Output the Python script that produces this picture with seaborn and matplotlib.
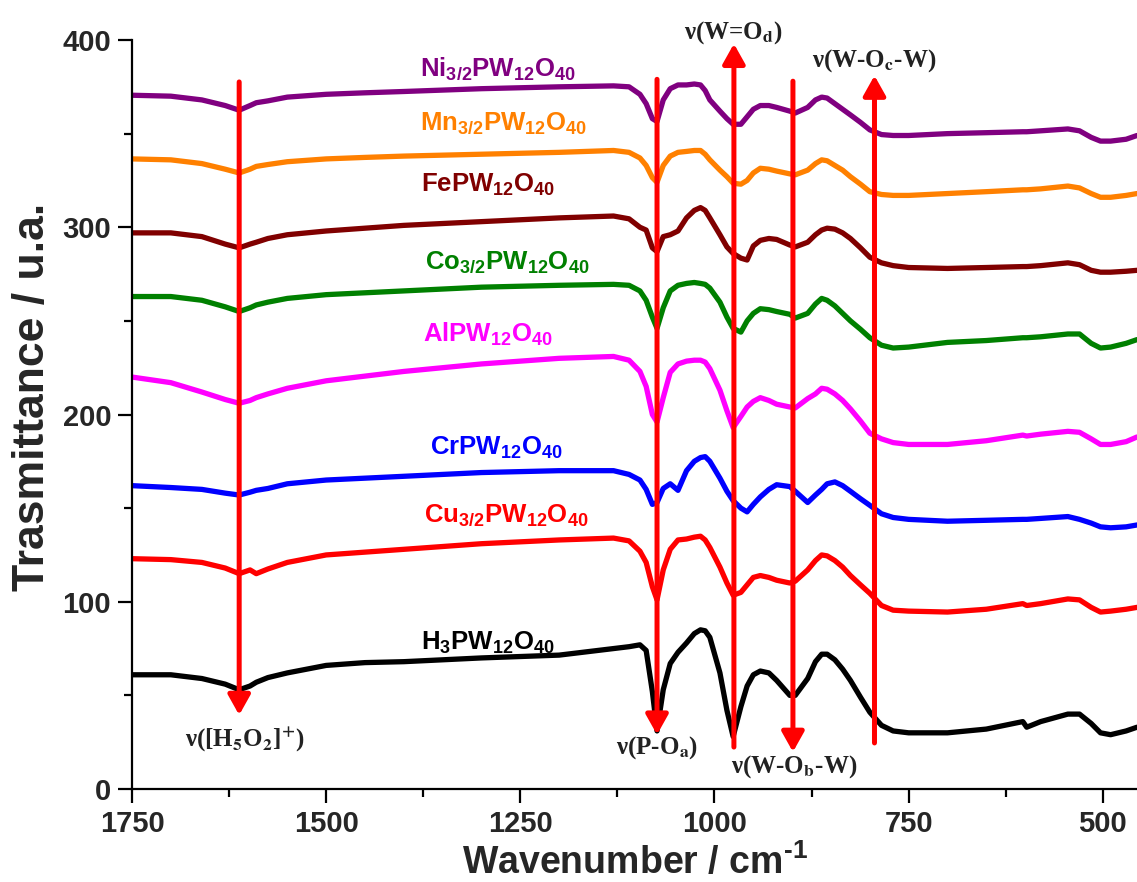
import matplotlib
matplotlib.use("Agg")
import matplotlib.pyplot as plt
from matplotlib.ticker import MultipleLocator
import numpy as np
import pandas as pd
import seaborn as sns

# ---------------- data ----------------
WAVENUMBER = [1750, 1700, 1660, 1630, 1612, 1598, 1590, 1575, 1550, 1500, 1450, 1400, 1300, 1200,
              1130, 1110, 1096, 1088, 1080, 1074, 1066, 1057, 1047, 1036, 1026, 1018, 1012, 1006,
              993, 984, 976, 966, 958, 950, 941, 930, 920, 903, 896, 880, 870, 862, 855, 845,
              835, 825, 812, 800, 785, 770, 750, 700,
              650, 603, 598, 580, 545, 530, 515, 503, 490, 470, 456]

H3_PW = [61, 61, 59, 56, 53, 55, 57, 59.5, 62, 66, 67.5, 68, 70, 71.5,
         75, 76, 77, 74, 52, 31, 53, 67, 73, 78, 83, 85, 84.5, 81,
         62, 42, 28, 44, 55, 61, 63, 62, 58, 50, 50, 59, 68, 72, 72, 69,
         64, 58, 49, 41, 34, 31, 30, 30,
         32, 36, 33, 36, 40, 40, 35, 30, 29, 31, 33]
CU_PW = [123, 122.5, 121, 118, 115, 117, 115, 117.5, 121, 125, 126.5, 128, 131, 133,
         134, 132.5, 127, 121, 108, 101, 117, 128, 133, 133.5, 134.5, 135, 133, 129,
         118.5, 110, 103.5, 105, 109, 113, 114, 113, 111.5, 110, 111, 117, 122, 125, 124.5, 122,
         118.5, 114, 109, 104.5, 98, 95.5, 95, 94.5,
         96, 99, 98, 99, 101.5, 101, 97, 94.5, 95, 96, 97]
CR_PW = [162, 161, 160, 158, 157, 158.5, 159.5, 160.5, 163, 165, 166, 167, 169, 170,
         170, 168, 165, 160, 152, 153, 160.5, 163, 159.5, 170, 175, 177, 177.5, 175,
         166, 159, 154, 150, 148, 152, 156, 160, 162.5, 161.5, 159, 153, 157, 160, 163, 164,
         162, 159, 155, 151.5, 147, 145, 144, 143,
         143.5, 144, 144, 144.5, 145.5, 144, 142, 140, 139.5, 140, 141]
AL_PW = [220, 217, 212, 208, 206, 207.5, 209, 211, 214, 218, 220.5, 223, 227, 230,
         231, 229, 223, 215, 200, 196, 209, 222.5, 227, 228.5, 229, 229, 228, 224.5,
         213, 202, 193, 199, 204, 207, 209, 207.5, 205.5, 204, 203.5, 208.5, 211, 214, 213.5, 211,
         207.5, 203, 196.5, 190, 187, 185, 184, 184,
         186, 189, 188.5, 189.5, 191, 190.5, 187, 184, 184, 185.5, 188]
CO_PW = [263, 263, 261, 257.5, 255, 257, 258.5, 260, 262, 264, 265, 266, 268, 269,
         269.5, 269, 266, 261, 252, 246, 257, 266, 269, 270, 270.5, 270, 269.5, 267.5,
         260, 252, 246, 244, 250, 254, 256.5, 256, 255, 253.5, 251.5, 254, 259, 262, 261, 258,
         254, 250, 245.5, 241, 237, 235.5, 236, 238.5,
         239.5, 241, 241, 241.5, 243, 243, 238, 235.5, 236, 238, 240]
FE_PW = [297, 297, 295, 291, 289, 291, 292, 294, 296, 298, 299.5, 301, 303, 305,
         306, 304.5, 300, 298.5, 289, 287, 295, 296, 298, 305, 309, 310.5, 309, 305,
         296, 289.5, 286, 283.5, 282.5, 290, 293, 294, 293.5, 290.5, 289.5, 292, 296, 298.5, 299.5, 299,
         297, 294, 289, 284, 281, 279.5, 278.5, 278,
         278.5, 279, 279, 279.5, 281, 280, 277, 276, 276, 276.5, 277]
MN_PW = [336.5, 336, 334, 331, 329, 331, 332.5, 333.5, 335, 336.5, 337.3, 338, 339, 340,
         341, 340, 337, 333, 326.5, 324, 333, 338, 340, 340.5, 341, 341, 339, 336,
         330.5, 327, 323.5, 323, 325, 329, 331.5, 331, 330, 328.5, 328, 330.5, 334, 336, 335.5, 333,
         330.5, 327, 323, 319, 317.5, 317, 317, 318,
         319, 320, 320, 320.5, 322, 321, 318, 316, 316, 317, 318]
NI_PW = [370.5, 370, 368, 365, 362.5, 365, 366.5, 367.5, 369.5, 371, 371.8, 372.5, 374, 375,
         375.5, 375, 371, 366, 358, 356.5, 368, 374, 376, 376, 376.5, 376, 373, 368,
         362, 358, 355, 355, 359, 363, 365, 365, 364, 362, 361, 364, 368, 369.5, 369, 366,
         363, 360, 356, 352, 349.5, 349, 349, 350,
         350.5, 351, 351, 351.5, 352.5, 351.5, 348, 346, 346, 347, 349]

SAMPLES = ["H3", "Cu", "Cr", "Al", "Co", "Fe", "Mn", "Ni"]
SAMPLE_LABELS = [r"H$_3$PW$_{12}$O$_{40}$", r"Cu$_{3/2}$PW$_{12}$O$_{40}$", r"CrPW$_{12}$O$_{40}$",
                 r"AlPW$_{12}$O$_{40}$", r"Co$_{3/2}$PW$_{12}$O$_{40}$", r"FePW$_{12}$O$_{40}$",
                 r"Mn$_{3/2}$PW$_{12}$O$_{40}$", r"Ni$_{3/2}$PW$_{12}$O$_{40}$"]
COLORS = ["#000000", "#FF0000", "#0000FF", "#FF00FF", "#008000", "#800000", "#FF8000", "#800080"]
LABEL_WN = [1378, 1374, 1366, 1375, 1373, 1378, 1379, 1379]
LABEL_Y = [74.5, 142.6, 178.4, 238.7, 278, 318.8, 352, 380.8]

BAND_WN = [1612, 1074, 975, 899, 794]
BAND_FROM = [377.6, 379, 22.4, 378, 24.6]
BAND_TO = [39.5, 29, 398, 19.8, 381]
BAND_TEXT = [r"ν([H$_\mathbf{5}$O$_\mathbf{2}$]$^\mathbf{+}$)", r"ν(P-O$_\mathbf{a}$)",
             r"ν(W=O$_\mathbf{d}$)", r"ν(W-O$_\mathbf{b}$-W)", r"ν(W-O$_\mathbf{c}$-W)"]
BAND_TEXT_WN = [1605, 1074, 975, 898, 795]
BAND_TEXT_Y = [26, 22, 404, 12, 389]

SERIES = [H3_PW, CU_PW, CR_PW, AL_PW, CO_PW, FE_PW, MN_PW, NI_PW]

rows = []
for name, vals in zip(SAMPLES, SERIES):
    for w, v in zip(WAVENUMBER, vals):
        rows.append((name, w, v))
df = pd.DataFrame(rows, columns=["sample", "wn", "T"])

# ---------------- style ----------------
sns.set_style("ticks")
plt.rcParams["font.family"] = ["Liberation Sans", "DejaVu Sans"]
plt.rcParams["font.weight"] = "bold"
plt.rcParams["mathtext.fontset"] = "custom"
plt.rcParams["mathtext.rm"] = "Liberation Sans:bold"
plt.rcParams["mathtext.bf"] = "Liberation Sans:bold"
plt.rcParams["mathtext.it"] = "Liberation Sans:bold"
plt.rcParams["mathtext.default"] = "rm"

fig = plt.figure(figsize=(11.37, 8.82), dpi=100)
ax = fig.add_axes([132 / 1137, 93 / 882, 1005 / 1137, 749 / 882])

sns.lineplot(data=df, x="wn", y="T", hue="sample", hue_order=SAMPLES,
             palette=dict(zip(SAMPLES, COLORS)), sort=False, estimator=None,
             linewidth=3.8, legend=False, ax=ax)
for line in ax.get_lines():
    line.set_solid_joinstyle("round")
    line.set_solid_capstyle("round")

ax.set_xlim(1750, 456)
ax.set_ylim(0, 400)

ax.xaxis.set_major_locator(MultipleLocator(250))
ax.xaxis.set_minor_locator(MultipleLocator(125))
ax.yaxis.set_major_locator(MultipleLocator(100))
ax.yaxis.set_minor_locator(MultipleLocator(50))
ax.tick_params(axis="both", which="major", direction="out", length=10, width=1.6,
               labelsize=21, pad=5, color="black")
ax.tick_params(axis="both", which="minor", direction="out", length=6, width=1.6, color="black")
sns.despine(ax=ax, top=True, right=True)
for s in ["left", "bottom"]:
    ax.spines[s].set_linewidth(1.6)
    ax.spines[s].set_color("black")

ax.set_xlabel(r"Wavenumber / cm$^{\text{-}1}$", fontsize=27, fontweight="bold")
ax.set_ylabel("Trasmittance / u.a.", fontsize=32, fontweight="bold")
ax.xaxis.set_label_coords(0.5, -0.072)
ax.yaxis.set_label_coords(-0.079, 0.523)

for lab, c, xw, yv in zip(SAMPLE_LABELS, COLORS, LABEL_WN, LABEL_Y):
    ax.text(xw, yv, lab, color=c, fontsize=18.5, fontweight="bold", ha="left", va="baseline")

for w, y0, y1 in zip(BAND_WN, BAND_FROM, BAND_TO):
    ax.annotate("", xy=(w, y1), xytext=(w, y0),
                arrowprops=dict(arrowstyle="-|>,head_length=0.5,head_width=0.28",
                                color="#FF0000", lw=3.6, shrinkA=0, shrinkB=0,
                                mutation_scale=24), zorder=5)

for t, xw, yv in zip(BAND_TEXT, BAND_TEXT_WN, BAND_TEXT_Y):
    ax.text(xw, yv, t, fontsize=18, fontweight="bold", family=["Liberation Serif", "DejaVu Serif"],
            math_fontfamily="stix", ha="center", va="center", color="#222222")

fig.savefig("out.png", dpi=100)
